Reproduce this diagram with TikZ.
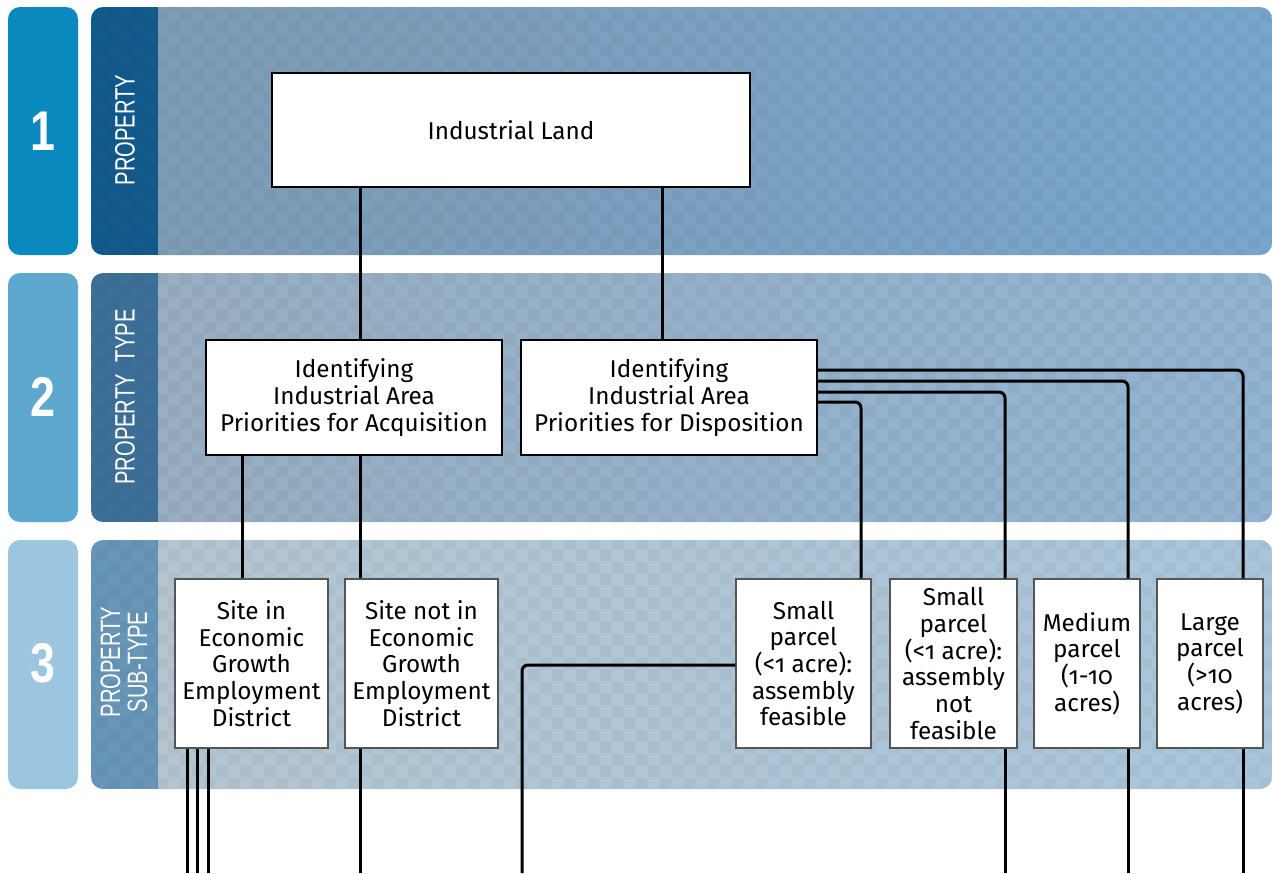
\documentclass[tikz,border=0pt]{standalone}
\usepackage{fontspec}
\setmainfont{Fira Sans}[Numbers=OldStyle]
\newfontfamily\condfont{Liberation Sans}
\usetikzlibrary{patterns}
\pgfdeclarepatternformonly{checker}{\pgfpointorigin}{\pgfpoint{24pt}{24pt}}{\pgfpoint{24pt}{24pt}}{%
  \pgfpathrectangle{\pgfpointorigin}{\pgfpoint{12pt}{12pt}}%
  \pgfpathrectangle{\pgfpoint{12pt}{12pt}}{\pgfpoint{12pt}{12pt}}%
  \pgfusepath{fill}}
\definecolor{tabA}{HTML}{0A89BF}
\definecolor{tabB}{HTML}{5EA7CF}
\definecolor{tabC}{HTML}{9CC5E0}
\definecolor{labA}{HTML}{125A8C}
\definecolor{labB}{HTML}{3D7099}
\definecolor{labC}{HTML}{6896B8}
\definecolor{bgAl}{HTML}{7E9CB5}
\definecolor{bgAr}{HTML}{7AA6CE}
\definecolor{bgBl}{HTML}{98AEC1}
\definecolor{bgBr}{HTML}{92B4D2}
\definecolor{bgCl}{HTML}{B4C5D1}
\definecolor{bgCr}{HTML}{AAC5DB}
\definecolor{subedge}{HTML}{555555}
\tikzset{
  numtxt/.style={text=white, font=\condfont\bfseries\fontsize{56}{56}\selectfont},
  bandtxt/.style={text=white, rotate=90, align=center, font=\condfont\fontsize{28}{27}\selectfont},
  boxtxt/.style={fill=white, align=center, inner sep=0pt, font=\fontsize{24.3}{26.7}\selectfont},
  topbox/.style={boxtxt, draw=black, line width=2.5pt},
  typebox/.style={boxtxt, draw=black, line width=2.2pt, minimum width=296pt, minimum height=115pt},
  subbox/.style={boxtxt, draw=subedge, line width=1.3pt, minimum height=169pt},
  conn/.style={draw=black, line width=3pt, rounded corners=6pt}
}
\newcommand{\nar}[1]{\scalebox{0.72}[1]{#1}}
\begin{document}
\begin{tikzpicture}[x=1pt,y=-1pt]
\fill[white] (0,0) rectangle (1272,873);
\useasboundingbox (0,0) rectangle (1272,873);
% bands
\foreach \ya/\yb/\t/\l/\bl/\br in {7/255/tabA/labA/bgAl/bgAr, 273/522/tabB/labB/bgBl/bgBr, 540/789/tabC/labC/bgCl/bgCr}{
  \fill[\t, rounded corners=12pt] (8,\ya) rectangle (78,\yb);
  \begin{scope}
    \clip[rounded corners=12pt] (91,\ya) rectangle (1272,\yb);
    \shade[left color=\bl, right color=\br] (158,\ya) rectangle (1272,\yb);
    \fill[pattern=checker, pattern color=black, fill opacity=0.035] (158,\ya) rectangle (1272,\yb);
    \fill[\l] (91,\ya) rectangle (158,\yb);
    \fill[pattern=checker, pattern color=black, fill opacity=0.03] (91,\ya) rectangle (158,\yb);
  \end{scope}
}
\node[numtxt] (n1) at (43,131) {\scalebox{0.8}[1]{1}};
\node[numtxt] (n2) at (43,397) {\scalebox{0.8}[1]{2}};
\node[numtxt] (n3) at (43,663) {\scalebox{0.8}[1]{3}};
\node[bandtxt] (b1) at (125,130) {\nar{PROPERTY}};
\node[bandtxt] (b2) at (125,397) {\nar{PROPERTY\hspace{0.6em}TYPE}};
\node[bandtxt] (b3) at (124,662) {\nar{PROPERTY}\\\nar{SUB-TYPE}};
% boxes
\node[topbox, minimum width=478pt, minimum height=114pt] (land) at (511,130) {Industrial Land};
\node[typebox] (acq) at (354,397.5) {Identifying\\Industrial Area\\Priorities for Acquisition};
\node[typebox] (disp) at (669,397.5) {Identifying\\Industrial Area\\Priorities for Disposition};
\node[subbox, minimum width=153pt] (sitein) at (251.5,663.5) {Site in\\Economic\\Growth\\Employment\\District};
\node[subbox, minimum width=153pt] (sitenot) at (421.5,663.5) {Site not in\\Economic\\Growth\\Employment\\District};
\node[subbox, minimum width=135pt] (smallA) at (803.5,663.5) {Small\\parcel\\(<1 acre):\\assembly\\feasible};
\node[subbox, minimum width=127pt] (smallB) at (953.5,663.5) {Small\\parcel\\(<1 acre):\\assembly\\not\\feasible};
\node[subbox, minimum width=106pt] (medium) at (1087,663.5) {Medium\\parcel\\(1-10\\acres)};
\node[subbox, minimum width=106pt] (large) at (1210,663.5) {Large\\parcel\\(>10\\acres)};
% helper coordinates
\coordinate (xA) at (360,0);
\coordinate (xB) at (662,0);
\coordinate (xC) at (242,0);
\coordinate (yD) at (0,402);
\coordinate (yE) at (0,392);
\coordinate (yF) at (0,381);
\coordinate (yG) at (0,370);
\coordinate (xD) at (861,0);
\coordinate (xE) at (1005,0);
\coordinate (xF) at (1128,0);
\coordinate (xG) at (1243,0);
\coordinate (yS) at (0,665);
\coordinate (xS) at (522,0);
\coordinate (e1) at (187,873);
\coordinate (e2) at (197.5,873);
\coordinate (e3) at (208,873);
\coordinate (e4) at (360,873);
\coordinate (e5) at (522,873);
\coordinate (e6) at (1005,873);
\coordinate (e7) at (1128,873);
\coordinate (e8) at (1243,873);
% connectors
\draw[conn] (land.south -| xA) -- (acq.north -| xA);
\draw[conn] (land.south -| xB) -- (disp.north -| xB);
\draw[conn] (acq.south -| xC) -- (sitein.north -| xC);
\draw[conn] (acq.south -| xA) -- (sitenot.north -| xA);
\draw[conn] (disp.east |- yD) -- (xD |- yD) -- (smallA.north -| xD);
\draw[conn] (disp.east |- yE) -- (xE |- yE) -- (smallB.north -| xE);
\draw[conn] (disp.east |- yF) -- (xF |- yF) -- (medium.north -| xF);
\draw[conn] (disp.east |- yG) -- (xG |- yG) -- (large.north -| xG);
\draw[conn] (sitein.south -| e1) -- (e1);
\draw[conn] (sitein.south -| e2) -- (e2);
\draw[conn] (sitein.south -| e3) -- (e3);
\draw[conn] (sitenot.south -| e4) -- (e4);
\draw[conn] (smallA.west |- yS) -- (xS |- yS) -- (e5);
\draw[conn] (smallB.south -| e6) -- (e6);
\draw[conn] (medium.south -| e7) -- (e7);
\draw[conn] (large.south -| e8) -- (e8);
\end{tikzpicture}
\end{document}
